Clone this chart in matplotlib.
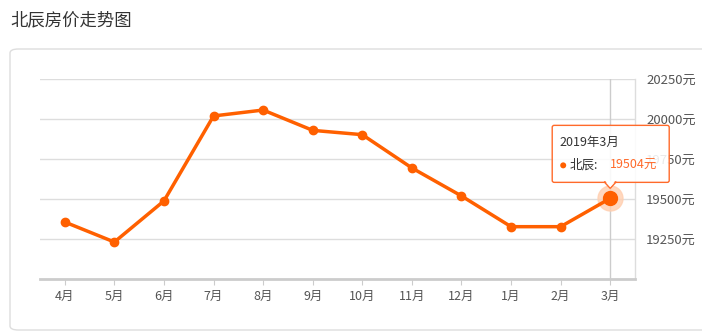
import numpy as np
import matplotlib
matplotlib.use("Agg")
import matplotlib.pyplot as plt
from matplotlib.patches import FancyBboxPatch, Circle, Polygon
from matplotlib.transforms import IdentityTransform

plt.rcParams['font.family'] = ['Noto Sans CJK SC', 'DejaVu Sans']

months = ['4月', '5月', '6月', '7月', '8月', '9月', '10月', '11月', '12月', '1月', '2月', '3月']
prices = [19356, 19231, 19488, 20019, 20056, 19929, 19902, 19694, 19519, 19327, 19327, 19504]
yticks = [19250, 19500, 19750, 20000, 20250]
tip_title = '2019年3月'
series_name = '北辰'

line_c = '#ff6000'
text_c = '#555555'

fig = plt.figure(figsize=(7.02, 3.36), dpi=100)
W, H = 702, 336

# title and panel
fig.text(10 / W, 1 - 20 / H, '北辰房价走势图', fontsize=12.5, color='#333333', va='center', ha='left')
panel = FancyBboxPatch((10 / W, 1 - 330 / H), 720 / W, 281 / H,
                       boxstyle='round,pad=0,rounding_size=0.012',
                       transform=fig.transFigure, facecolor='white', edgecolor='#dddddd', lw=1,
                       zorder=-5)
fig.patches.append(panel)

ax = fig.add_axes([40 / W, 57 / H, 595 / W, 200 / H])
ax.set_facecolor('none')
x = np.arange(len(months))
ax.set_xlim(-0.5, len(months) - 0.5)
ax.set_ylim(19000, 20250)

for yv in yticks:
    ax.axhline(yv, color='#dddddd', lw=1, zorder=1)
ax.axvline(x[-1], color='#cccccc', lw=1, zorder=1)

for s in ['top', 'left']:
    ax.spines[s].set_visible(False)
ax.spines['bottom'].set_color('#cccccc')
ax.spines['bottom'].set_linewidth(2)
ax.spines['right'].set_color('#dddddd')
ax.spines['right'].set_linewidth(1)

ax.yaxis.tick_right()
ax.set_yticks(yticks)
ax.set_yticklabels([f'{v}元' for v in yticks], fontsize=9.5, color=text_c)
ax.tick_params(axis='y', length=0, pad=8)
ax.set_xticks(x)
ax.set_xticklabels(months, fontsize=9, color=text_c)
ax.tick_params(axis='x', length=4, color='#cccccc', pad=4)

ax.plot(x, prices, color=line_c, lw=2.5, marker='o', ms=6, zorder=3, clip_on=False)
ax.plot(x[-1], prices[-1], 'o', ms=18, color='#ffcfb0', alpha=0.8, zorder=2, clip_on=False)
ax.plot(x[-1], prices[-1], 'o', ms=10, color=line_c, zorder=4, clip_on=False)

# tooltip, positioned from the last point
px, py = ax.transData.transform((x[-1], prices[-1]))
bx0, bx1 = px - 58, px + 59
by0, by1 = py + 16, py + 73
box = FancyBboxPatch((bx0, by0), bx1 - bx0, by1 - by0, boxstyle='round,pad=0,rounding_size=2',
                     transform=IdentityTransform(), facecolor=(1, 1, 1, 0.88),
                     edgecolor='#ff6a2a', lw=1, zorder=10)
fig.patches.append(box)
tri = Polygon([(px - 6, by0 + 0.5), (px + 6, by0 + 0.5), (px, by0 - 6)], closed=True,
              transform=IdentityTransform(), facecolor='white', edgecolor='#ff6a2a', lw=1, zorder=11)
fig.patches.append(tri)
cover = Polygon([(px - 5, by0 + 1.5), (px + 5, by0 + 1.5), (px, by0 - 4.5)], closed=True,
                transform=IdentityTransform(), facecolor='white', edgecolor='none', zorder=12)
fig.patches.append(cover)

fig.text((bx0 + 7) / W, (by1 - 17) / H, tip_title, fontsize=9, color='#333333',
         va='center', ha='left', zorder=13)
fig.patches.append(Circle((bx0 + 11, by1 - 40), 3, transform=IdentityTransform(),
                          facecolor=line_c, edgecolor='none', zorder=13))
fig.text((bx0 + 17) / W, (by1 - 40) / H, series_name + ':', fontsize=9, color='#333333',
         va='center', ha='left', zorder=13)
fig.text((bx0 + 58) / W, (by1 - 40) / H, f'{prices[-1]}元', fontsize=9, color='#ff6a2a',
         va='center', ha='left', zorder=13)

fig.savefig('out.png', dpi=100)
